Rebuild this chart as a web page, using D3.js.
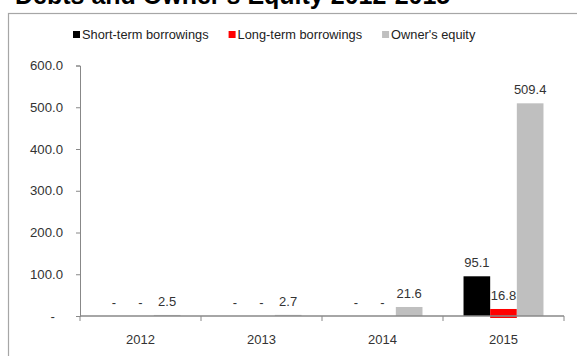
<!DOCTYPE html>
<html><head><meta charset="utf-8">
<script src="https://cdn.jsdelivr.net/npm/d3@7/dist/d3.min.js"></script>
<style>
body{margin:0;background:#fff;}
svg{display:block;font-family:"Liberation Sans",Arial,sans-serif;}
</style></head>
<body><svg id="c" width="577" height="356"></svg>
<script>
const years = ["2012","2013","2014","2015"];
const seriesNames = ["Short-term borrowings","Long-term borrowings","Owner's equity"];
const shortTerm = [0, 0, 0, 95.1];
const longTerm = [0, 0, 0, 16.8];
const equity = [2.5, 2.7, 21.6, 509.4];
const yTicks = [0,100,200,300,400,500,600];
const colors = ["#000000","#ff0000","#bfbfbf"];

const seriesValues = [shortTerm, longTerm, equity];
const svg = d3.select("#c");

svg.append("text").attr("x",15).attr("y",4).attr("font-size",25).attr("font-weight","bold")
  .attr("fill","#000").text("Debts and Owner's Equity 2012-2015");

svg.append("rect").attr("x",8.5).attr("y",13.5).attr("width",600).attr("height",400)
  .attr("fill","none").attr("stroke","#a6a6a6").attr("stroke-width",1.2);

const x0 = d3.scaleBand().domain(years).range([80,564]).paddingInner(0).paddingOuter(0);
const x1 = d3.scaleBand().domain(seriesNames).range([0,x0.bandwidth()]).paddingInner(0).paddingOuter(0.77);
const y = d3.scaleLinear().domain([0,600]).range([316,65.5]);

// y axis
const ya = svg.append("g").attr("transform","translate(80,0)")
  .call(d3.axisLeft(y).tickValues(yTicks).tickSize(4).tickPadding(13)
    .tickFormat(d => d===0 ? "-" : d3.format(".1f")(d)));
ya.select(".domain").attr("stroke","#888");
ya.selectAll(".tick line").attr("stroke","#888");
ya.selectAll(".tick text").attr("font-size",13.2).attr("fill","#333").attr("font-family","Liberation Sans, Arial, sans-serif")
  .attr("dx", d => d===0 ? -8 : 0);

// bars
const data = years.map((yr,i)=>({year:yr, vals: seriesNames.map((s,j)=>({s, v: seriesValues[j][i], c: colors[j]}))}));
const g = svg.append("g").selectAll("g").data(data).join("g")
  .attr("transform", d=>`translate(${x0(d.year)},0)`);
g.selectAll("rect").data(d=>d.vals.filter(v=>v.v>0)).join("rect")
  .attr("x", d=>x1(d.s)).attr("width", x1.bandwidth())
  .attr("y", d=>y(d.v)).attr("height", d=>y(0)-y(d.v)+(d.s===seriesNames[1]?2:0)).attr("fill", d=>d.c);

// x axis
const xa = svg.append("g").attr("transform","translate(0,316)");
xa.append("line").attr("x1",80).attr("x2",564).attr("stroke","#888").attr("stroke-width",1.6);
const bounds = years.map(d=>x0(d)).concat([x0(years[years.length-1])+x0.bandwidth()]);
xa.selectAll("line.t").data(bounds).join("line").attr("class","t")
  .attr("x1",d=>d).attr("x2",d=>d).attr("y1",0).attr("y2",5).attr("stroke","#888");
xa.selectAll("text").data(years).join("text")
  .attr("x", d=>x0(d)+x0.bandwidth()/2).attr("y",28).attr("text-anchor","middle")
  .attr("font-size",13).attr("fill","#333").text(d=>d);

// data labels
g.selectAll("text").data(d=>d.vals).join("text")
  .attr("x", d=>x1(d.s)+x1.bandwidth()/2).attr("y", d=>y(d.v)-9)
  .attr("text-anchor","middle").attr("font-size",13).attr("fill","#333")
  .text(d=> d.v===0 ? "-" : d3.format(".1f")(d.v));

// legend
const leg = svg.append("g");
let lx = 73;
seriesNames.forEach((s,i)=>{
  leg.append("rect").attr("x",lx).attr("y",31).attr("width",7).attr("height",7).attr("fill",colors[i]);
  const t = leg.append("text").attr("x",lx+9).attr("y",39).attr("font-size",12.8).attr("fill","#222").text(s);
  lx += 9 + t.node().getComputedTextLength() + 20;
});
</script></body></html>
